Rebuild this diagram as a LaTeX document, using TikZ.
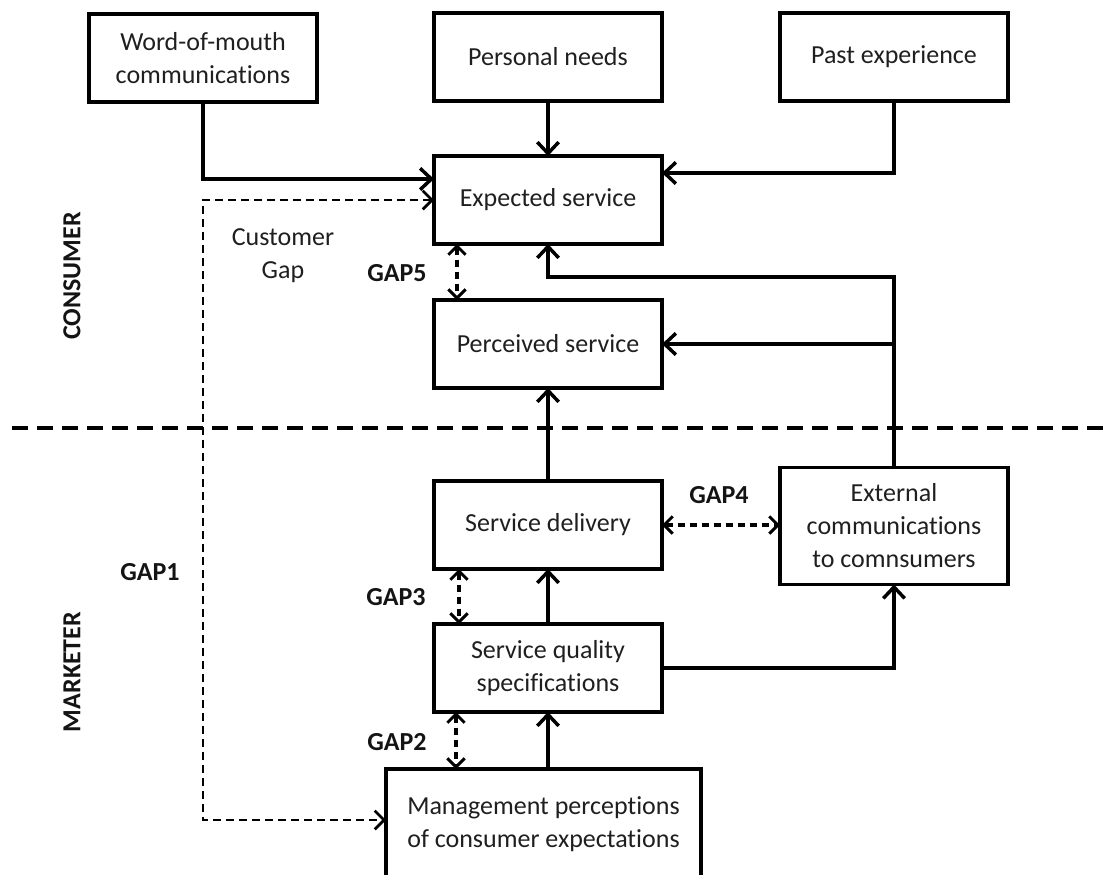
\documentclass[tikz,border=0pt]{standalone}
\usepackage{fontspec}
\setmainfont{Carlito}[Ligatures=NoCommon]
\usetikzlibrary{arrows.meta}
\begin{document}
\begin{tikzpicture}[x=0.75pt,y=-0.75pt,
  box/.style={draw,line width=2.6pt,minimum width=171pt,minimum height=66pt,inner sep=0pt,outer sep=0pt,align=center,text=black!88,font=\fontsize{19.5pt}{24.75pt}\selectfont},
  txt/.style={inner sep=0pt,align=center,text=black!88,font=\fontsize{19.5pt}{24.75pt}\selectfont},
  lbl/.style={inner sep=0pt,text=black!92,font=\fontsize{19.5pt}{24.75pt}\selectfont\bfseries},
  arr/.style={-{Straight Barb[length=8.5pt,width=16pt,line width=2.6pt]},line width=2.6pt},
  gapd/.style={{Straight Barb[length=6.5pt,width=13pt,line width=2.2pt]}-{Straight Barb[length=6.5pt,width=13pt,line width=2.2pt]},dash pattern=on 5.25pt off 3.75pt,line width=2.4pt},
  gapone/.style={{Straight Barb[length=7pt,width=14pt,line width=2pt]}-{Straight Barb[length=7pt,width=14pt,line width=2pt]},dash pattern=on 6pt off 3.75pt,line width=1.9pt},
  sepline/.style={dash pattern=on 12pt off 6.75pt,line width=3.2pt}
]
\path[use as bounding box,clip] (0,0) rectangle (1108,875);

% boxes
\node[box] (WoM) at (203,58) {Word-of-mouth\\communications};
\node[box] (PN) at (548,57) {Personal needs};
\node[box] (PE) at (894,57) {Past experience};
\node[box] (ES) at (548,200) {Expected service};
\node[box] (PS) at (548,344) {Perceived service};
\node[box] (SD) at (548,525) {Service delivery};
\node[box,minimum height=87.75pt] (EC) at (894,526) {External\\communications\\to comnsumers};
\node[box] (SQS) at (548,668) {Service quality\\specifications};
\node[box,minimum width=236.25pt,minimum height=82.5pt] (MP) at (543.5,824) {Management perceptions\\of consumer expectations};

% labels
\node[lbl,rotate=90] (cons) at (72,276) {CONSUMER};
\node[lbl,rotate=90] (mark) at (72,672) {MARKETER};
\node[txt] (cg) at (283,256) {Customer\\Gap};
\node[lbl] (g1) at (150,572) {GAP1};
\node[lbl] (g5) at (397,273) {GAP5};
\node[lbl] (g4) at (719,495) {GAP4};
\node[lbl] (g3) at (396,597) {GAP3};
\node[lbl] (g2) at (397,742) {GAP2};

% separator
\coordinate (sepL) at (12,428);
\coordinate (sepR) at (1108,428);
\draw[sepline] (sepL) -- (sepR);

% solid connectors
\draw[arr] (WoM.south) |- (ES.west |- 0,179);
\draw[arr] (PN) -- (ES);
\draw[arr] (PE.south) |- (ES.east |- 0,173);
\draw[arr] (EC.north) |- (ES.south |- 0,277) -- (ES.south);
\draw[arr] (EC.north |- PS.east) -- (PS.east);
\draw[arr] (SD) -- (PS);
\draw[arr] (SQS) -- (SD);
\draw[arr] (SQS.south |- MP.north) -- (SQS.south);
\draw[arr] (SQS.east) -| (EC.south);

% gap connectors
\draw[gapone] (ES.west) -| (WoM.south |- 0,820) -- (MP.west |- 0,820);
\draw[gapd] ([xshift=17.25pt]ES.south west) -- ([xshift=17.25pt]PS.north west);
\draw[gapd] ([xshift=18.75pt]SD.south west) -- ([xshift=18.75pt]SQS.north west);
\draw[gapd] ([xshift=16.5pt]SQS.south west) -- ([xshift=16.5pt]SQS.south west |- MP.north);
\draw[gapd] (SD.east) -- (EC.west |- SD.east);
\end{tikzpicture}
\end{document}
